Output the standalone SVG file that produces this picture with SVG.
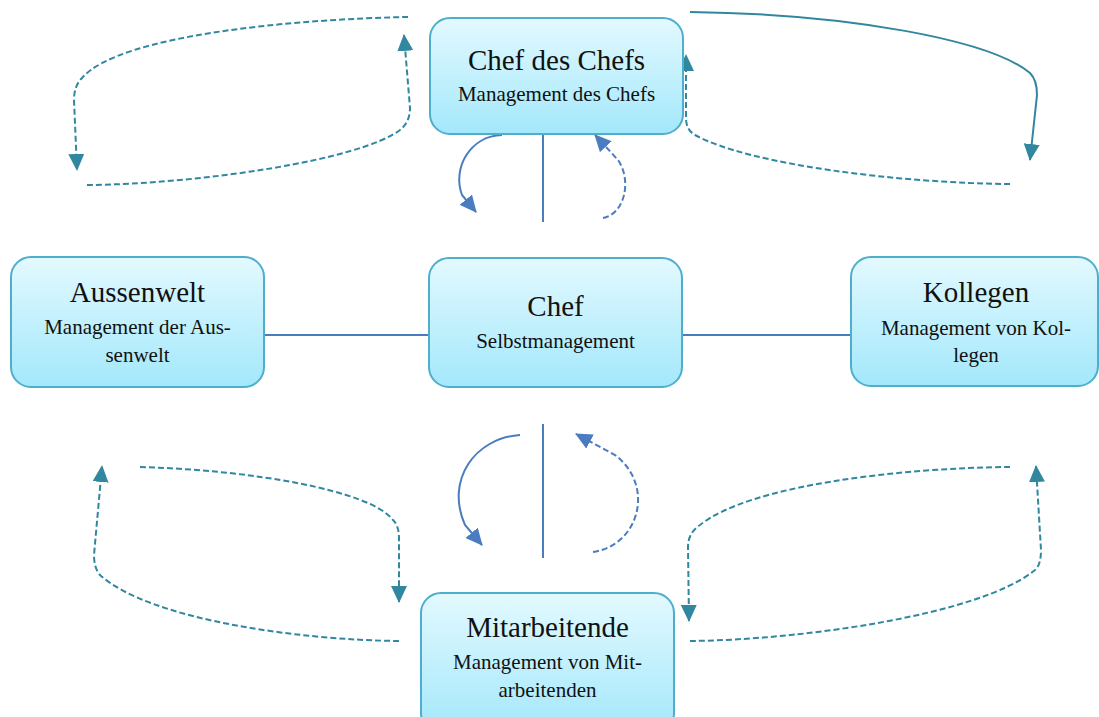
<svg xmlns="http://www.w3.org/2000/svg" width="1099" height="717" viewBox="0 0 1099 717">
<defs>
<linearGradient id="g" x1="0" y1="0" x2="0" y2="1">
<stop offset="0" stop-color="#e3f9ff"/>
<stop offset="1" stop-color="#a3e8fb"/>
</linearGradient>
<marker id="mt" markerUnits="userSpaceOnUse" markerWidth="18" markerHeight="16" refX="16" refY="8" orient="auto">
<path d="M0,0 L17,8 L0,16 Z" fill="#31879f"/>
</marker>
<marker id="mb" markerUnits="userSpaceOnUse" markerWidth="18" markerHeight="16" refX="16" refY="8" orient="auto">
<path d="M0,0 L17,8 L0,16 Z" fill="#4a7cbf"/>
</marker>
</defs>
<style>
.box{fill:url(#g);stroke:#4eaecb;stroke-width:2}
.t{font-family:"Liberation Serif",serif;font-size:29px;fill:#111;text-anchor:middle}
.s{font-family:"Liberation Serif",serif;font-size:21px;fill:#111;text-anchor:middle}
.tl{fill:none;stroke:#31879f;stroke-width:2}
.td{fill:none;stroke:#31879f;stroke-width:2;stroke-dasharray:6,3}
.bl{fill:none;stroke:#4a7cbf;stroke-width:2}
.bd{fill:none;stroke:#4a7cbf;stroke-width:2;stroke-dasharray:6,3}
</style>
<g id="connectors">
<line class="bl" x1="264" y1="335" x2="429" y2="335"/>
<line class="bl" x1="682" y1="335" x2="851" y2="335"/>
<line class="bl" x1="543" y1="122" x2="543" y2="222"/>
<line class="bl" x1="543" y1="424" x2="543" y2="558"/>
<path class="bl" d="M502,135 C470,136 452,168 462,195 L476,212" marker-end="url(#mb)"/>
<path class="bd" d="M603,218 C625,214 632,180 618,160 L595,135" marker-end="url(#mb)"/>
<path class="bl" d="M520,435 C475,438 445,480 465,525 L482,545" marker-end="url(#mb)"/>
<path class="bd" d="M593,552 C640,545 655,485 615,455 L576,434" marker-end="url(#mb)"/>
<path class="td" d="M408,17 C300,19 120,34 82,78 Q74,86 74,100 L77,170" marker-end="url(#mt)"/>
<path class="td" d="M87,185 C200,184 360,160 400,130 Q410,122 410,108 L404,35" marker-end="url(#mt)"/>
<path class="tl" d="M690,12 C850,14 990,40 1030,73 Q1037,80 1037,95 L1030,160" marker-end="url(#mt)"/>
<path class="td" d="M1010,184 C900,183 750,165 695,135 Q686,130 686,118 L686,55" marker-end="url(#mt)"/>
<path class="td" d="M140,467 C250,470 370,490 393,520 Q399,526 399,538 L399,602" marker-end="url(#mt)"/>
<path class="td" d="M399,641 C300,640 150,620 100,575 Q94,568 94,555 L102,466" marker-end="url(#mt)"/>
<path class="td" d="M1010,467 C900,468 750,485 700,525 Q688,533 688,547 L689,621" marker-end="url(#mt)"/>
<path class="td" d="M690,641 C800,640 980,615 1035,570 Q1041,565 1041,550 L1036,466" marker-end="url(#mt)"/>
</g>
<g id="chefdeschefs">
<rect class="box" x="430" y="18" width="253" height="116" rx="20"/>
<text class="t" x="556.5" y="70">Chef des Chefs</text>
<text class="s" x="556.5" y="101">Management des Chefs</text>
</g>
<g id="aussenwelt">
<rect class="box" x="11" y="257" width="253" height="130" rx="20"/>
<text class="t" x="137.5" y="302">Aussenwelt</text>
<text class="s" x="137.5" y="334">Management der Aus-</text>
<text class="s" x="137.5" y="362">senwelt</text>
</g>
<g id="chef">
<rect class="box" x="429" y="258" width="253" height="129" rx="20"/>
<text class="t" x="555.5" y="316">Chef</text>
<text class="s" x="555.5" y="348">Selbstmanagement</text>
</g>
<g id="kollegen">
<rect class="box" x="851" y="257" width="247" height="129" rx="20"/>
<text class="t" x="976" y="302">Kollegen</text>
<text class="s" x="976" y="335">Management von Kol-</text>
<text class="s" x="976" y="362">legen</text>
</g>
<g id="mitarbeitende">
<rect class="box" x="421" y="593" width="253" height="140" rx="20"/>
<text class="t" x="547.5" y="637">Mitarbeitende</text>
<text class="s" x="547.5" y="669">Management von Mit-</text>
<text class="s" x="547.5" y="697">arbeitenden</text>
</g>
</svg>
